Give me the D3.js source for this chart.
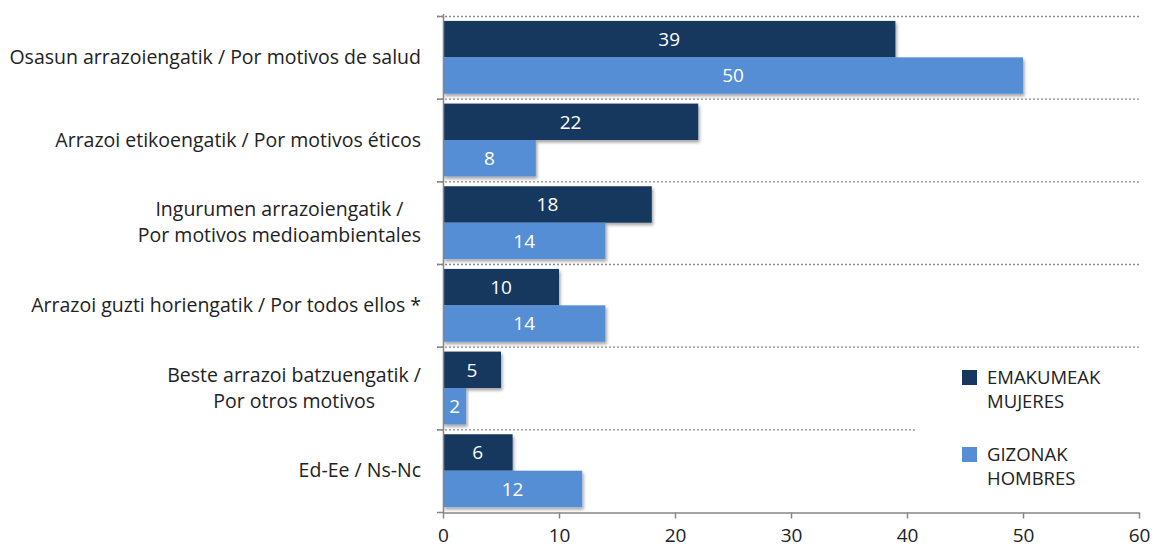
<!DOCTYPE html>
<html><head><meta charset="utf-8">
<script src="https://cdn.jsdelivr.net/npm/d3@7"></script>
<style>
html,body{margin:0;padding:0;background:#fff;}
text{font-family:"Open Sans",Lato,sans-serif;}
</style></head>
<body><svg id="c" width="1154" height="548"></svg>
<script>
const categories = [
  ["Osasun arrazoiengatik / Por motivos de salud"],
  ["Arrazoi etikoengatik / Por motivos éticos"],
  ["Ingurumen arrazoiengatik / ", "Por motivos medioambientales"],
  ["Arrazoi guzti horiengatik / Por todos ellos *"],
  ["Beste arrazoi batzuengatik /", "Por otros motivos"],
  ["Ed-Ee / Ns-Nc"]
];
const women = [39, 22, 18, 10, 5, 6];
const men = [50, 8, 14, 14, 2, 12];
const seriesNames = [["EMAKUMEAK", "MUJERES"], ["GIZONAK", "HOMBRES"]];
const xTicks = [0, 10, 20, 30, 40, 50, 60];
const colors = ["#17375E", "#558ED5"];

const svg = d3.select("#c");
const x = d3.scaleLinear().domain([0, 60]).range([443, 1139]);
const y = d3.scaleBand().domain(d3.range(categories.length)).range([16, 512]).paddingInner(0).paddingOuter(0);
const inner = d3.scaleBand().domain([0, 1]).range([0, y.bandwidth()]).paddingOuter(0.135).paddingInner(0);

const defs = svg.append("defs");
const f = defs.append("filter").attr("id", "sh").attr("x", "-5%").attr("y", "-20%").attr("width", "115%").attr("height", "160%");
f.append("feDropShadow").attr("dx", 1.5).attr("dy", 2.5).attr("stdDeviation", 1.6).attr("flood-color", "#000").attr("flood-opacity", 0.35);

// gridlines (dotted)
const gridEnds = [1139, 1139, 1139, 1139, 1139, 917];
categories.forEach((c, i) => {
  svg.append("line").attr("x1", 437).attr("x2", gridEnds[i])
    .attr("y1", y(i) + 0.5).attr("y2", y(i) + 0.5)
    .attr("stroke", "#8c8c8c").attr("stroke-width", 1.3).attr("stroke-dasharray", "2,2");
});

// bars
const bars = svg.append("g");
[women, men].forEach((vals, s) => {
  vals.forEach((v, i) => {
    const y0 = y(i) + inner(s);
    bars.append("rect").attr("x", x(0)).attr("y", y0)
      .attr("width", x(v) - x(0)).attr("height", inner.bandwidth())
      .attr("fill", colors[s]).attr("filter", "url(#sh)");
  });
});
[women, men].forEach((vals, s) => {
  vals.forEach((v, i) => {
    const y0 = y(i) + inner(s) + inner.bandwidth() / 2;
    bars.append("text")
      .attr("x", (x(0) + x(v)) / 2)
      .attr("y", y0).attr("dy", "0.36em")
      .attr("text-anchor", "middle")
      .attr("fill", "#fff").attr("font-size", 19).text(v);
  });
});

// y axis line + ticks
svg.append("line").attr("x1", 443.5).attr("x2", 443.5).attr("y1", 14).attr("y2", 512)
  .attr("stroke", "#868686").attr("stroke-width", 1.5);
d3.range(categories.length + 1).forEach(i => {
  const yy = i < categories.length ? y(i) : 512;
  svg.append("line").attr("x1", 437).attr("x2", 444).attr("y1", yy + 0.5).attr("y2", yy + 0.5)
    .attr("stroke", "#868686").attr("stroke-width", 1.5);
});

// x axis
const xAxis = d3.axisBottom(x).tickValues(xTicks).tickSize(6).tickSizeOuter(0).tickPadding(10);
const gx = svg.append("g").attr("transform", "translate(0,512.5)").call(xAxis);
gx.select(".domain").attr("stroke", "#868686").attr("stroke-width", 1.5);
gx.selectAll(".tick line").attr("stroke", "#868686").attr("stroke-width", 1.5);
gx.selectAll(".tick text").attr("font-size", 19).attr("fill", "#222").attr("font-family", "'Open Sans',Lato,sans-serif");

// category labels
const labRight = 421;
categories.forEach((lines, i) => {
  const cy = y(i) + y.bandwidth() / 2;
  const g = svg.append("g");
  const lh = 26;
  const ts = lines.map((l, k) => g.append("text").attr("font-size", 19.5).attr("fill", "#222")
    .attr("y", cy + (k - (lines.length - 1) / 2) * lh).attr("dy", "0.35em").text(l));
  const maxW = d3.max(ts, t => t.node().getComputedTextLength());
  ts.forEach(t => t.attr("x", labRight - maxW / 2).attr("text-anchor", "middle"));
});

// legend
const legY = [370, 447];
seriesNames.forEach((nm, s) => {
  svg.append("rect").attr("x", 962).attr("y", legY[s]).attr("width", 15).attr("height", 15).attr("fill", colors[s]);
  nm.forEach((t, k) => svg.append("text").attr("x", 987).attr("y", legY[s] + 8 + k * 24).attr("dy", "0.35em")
    .attr("font-size", 18.5).attr("fill", "#222").text(t));
});
</script></body></html>
